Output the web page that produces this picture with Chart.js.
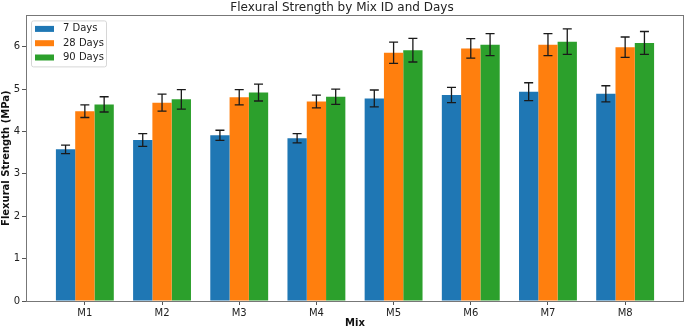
<!DOCTYPE html>
<html>
<head>
<meta charset="utf-8">
<script src="https://cdn.jsdelivr.net/npm/chart.js@4"></script>
<style>
  body { margin: 0; background: #fff; }
  #wrap { width: 685px; height: 329px; position: relative; }
</style>
</head>
<body>
<div id="wrap"><canvas id="chart"></canvas></div>
<script>
// Flexural strength by mix, grouped bars with std error bars
const mixes = ['M1', 'M2', 'M3', 'M4', 'M5', 'M6', 'M7', 'M8'];
const seriesNames = ['7 Days', '28 Days', '90 Days'];
const colors = ['#1f77b4', '#ff7f0e', '#2ca02c'];

const days7  = [3.58, 3.80, 3.91, 3.84, 4.78, 4.86, 4.94, 4.89];
const days28 = [4.48, 4.68, 4.81, 4.71, 5.86, 5.96, 6.05, 5.99];
const days90 = [4.64, 4.76, 4.92, 4.82, 5.92, 6.05, 6.12, 6.09];

const err7  = [0.10, 0.15, 0.12, 0.11, 0.20, 0.18, 0.21, 0.19];
const err28 = [0.15, 0.20, 0.18, 0.15, 0.25, 0.23, 0.26, 0.24];
const err90 = [0.18, 0.23, 0.20, 0.18, 0.28, 0.26, 0.30, 0.27];

const yTicks = [0, 1, 2, 3, 4, 5, 6];

const values = [days7, days28, days90];
const errors = [err7, err28, err90];

const FONT = "'DejaVu Sans', sans-serif";

// error bars drawn on top of the bars
const errorBars = {
  id: 'errorBars',
  afterDatasetsDraw(chart) {
    const { ctx } = chart;
    const yScale = chart.scales.y;
    ctx.save();
    ctx.strokeStyle = '#1a1a1a';
    ctx.lineWidth = 1.3;
    chart.data.datasets.forEach((ds, di) => {
      const meta = chart.getDatasetMeta(di);
      meta.data.forEach((bar, i) => {
        const v = values[di][i], e = errors[di][i];
        const top = yScale.getPixelForValue(v + e);
        const bot = yScale.getPixelForValue(v - e);
        const x = bar.x;
        ctx.beginPath();
        ctx.moveTo(x, top); ctx.lineTo(x, bot);
        ctx.moveTo(x - 4.5, top); ctx.lineTo(x + 4.5, top);
        ctx.moveTo(x - 4.5, bot); ctx.lineTo(x + 4.5, bot);
        ctx.stroke();
      });
    });
    ctx.restore();
  }
};

// axes frame + legend box in the upper left
const frameAndLegend = {
  id: 'frameAndLegend',
  afterDraw(chart) {
    const { ctx, chartArea: a } = chart;
    ctx.save();
    ctx.strokeStyle = '#777';
    ctx.lineWidth = 1;
    ctx.strokeRect(Math.round(a.left) + 0.5, Math.round(a.top) + 0.5,
                   Math.round(a.right - a.left) - 1, Math.round(a.bottom - a.top));

    const bx = a.left + 5, by = a.top + 5, bw = 75, bh = 46;
    ctx.fillStyle = 'rgba(255,255,255,0.8)';
    ctx.strokeStyle = '#d6d6d6';
    ctx.beginPath();
    ctx.roundRect(bx + 0.5, by + 0.5, bw, bh, 2);
    ctx.fill();
    ctx.stroke();

    ctx.font = '10px ' + FONT;
    ctx.textBaseline = 'middle';
    seriesNames.forEach((name, i) => {
      const cy = by + 8.5 + i * 14.3;
      ctx.fillStyle = colors[i];
      ctx.fillRect(bx + 4, cy - 3, 19, 6);
      ctx.fillStyle = '#222';
      ctx.fillText(name, bx + 32, cy);
    });
    ctx.restore();
  }
};

new Chart(document.getElementById('chart').getContext('2d'), {
  type: 'bar',
  data: {
    datasets: seriesNames.map((name, di) => ({
      label: name,
      data: values[di].map((v, i) => ({ x: i, y: v })),
      backgroundColor: colors[di],
      borderWidth: 0,
      categoryPercentage: 0.75,
      barPercentage: 1
    }))
  },
  options: {
    responsive: true,
    maintainAspectRatio: false,
    animation: false,
    layout: { padding: { left: 0, right: 1, top: 1, bottom: 0 } },
    plugins: {
      legend: { display: false },
      tooltip: { enabled: false },
      title: {
        display: true,
        text: 'Flexural Strength by Mix ID and Days',
        color: '#222',
        font: { family: FONT, size: 12, weight: 'normal' },
        padding: { top: 0, bottom: 0 }
      }
    },
    scales: {
      x: {
        type: 'linear',
        min: -0.7625,
        max: 7.7625,
        offset: false,
        grid: { offset: false, drawOnChartArea: false, drawTicks: true, tickLength: 4, color: '#555' },
        border: { display: false },
        afterBuildTicks: scale => { scale.ticks = mixes.map((_, i) => ({ value: i })); },
        afterFit: scale => { scale.height = 28; },
        ticks: {
          color: '#222',
          font: { family: FONT, size: 10 },
          padding: 2,
          maxRotation: 0,
          callback: v => mixes[v]
        },
        title: {
          display: true,
          text: 'Mix',
          color: '#111',
          font: { family: FONT, size: 10, weight: 'bold' },
          padding: { top: 0, bottom: 0 }
        }
      },
      y: {
        min: 0,
        max: 6.74,
        grid: { drawOnChartArea: false, drawTicks: true, tickLength: 4, color: '#555' },
        border: { display: false },
        afterBuildTicks: scale => { scale.ticks = yTicks.map(v => ({ value: v })); },
        afterFit: scale => { scale.width = 26; },
        ticks: {
          color: '#222',
          font: { family: FONT, size: 10 },
          padding: 2
        },
        title: {
          display: true,
          text: 'Flexural Strength (MPa)',
          color: '#111',
          font: { family: FONT, size: 10, weight: 'bold' },
          padding: { top: 0, bottom: 0 }
        }
      }
    }
  },
  plugins: [errorBars, frameAndLegend]
});
</script>
</body>
</html>
